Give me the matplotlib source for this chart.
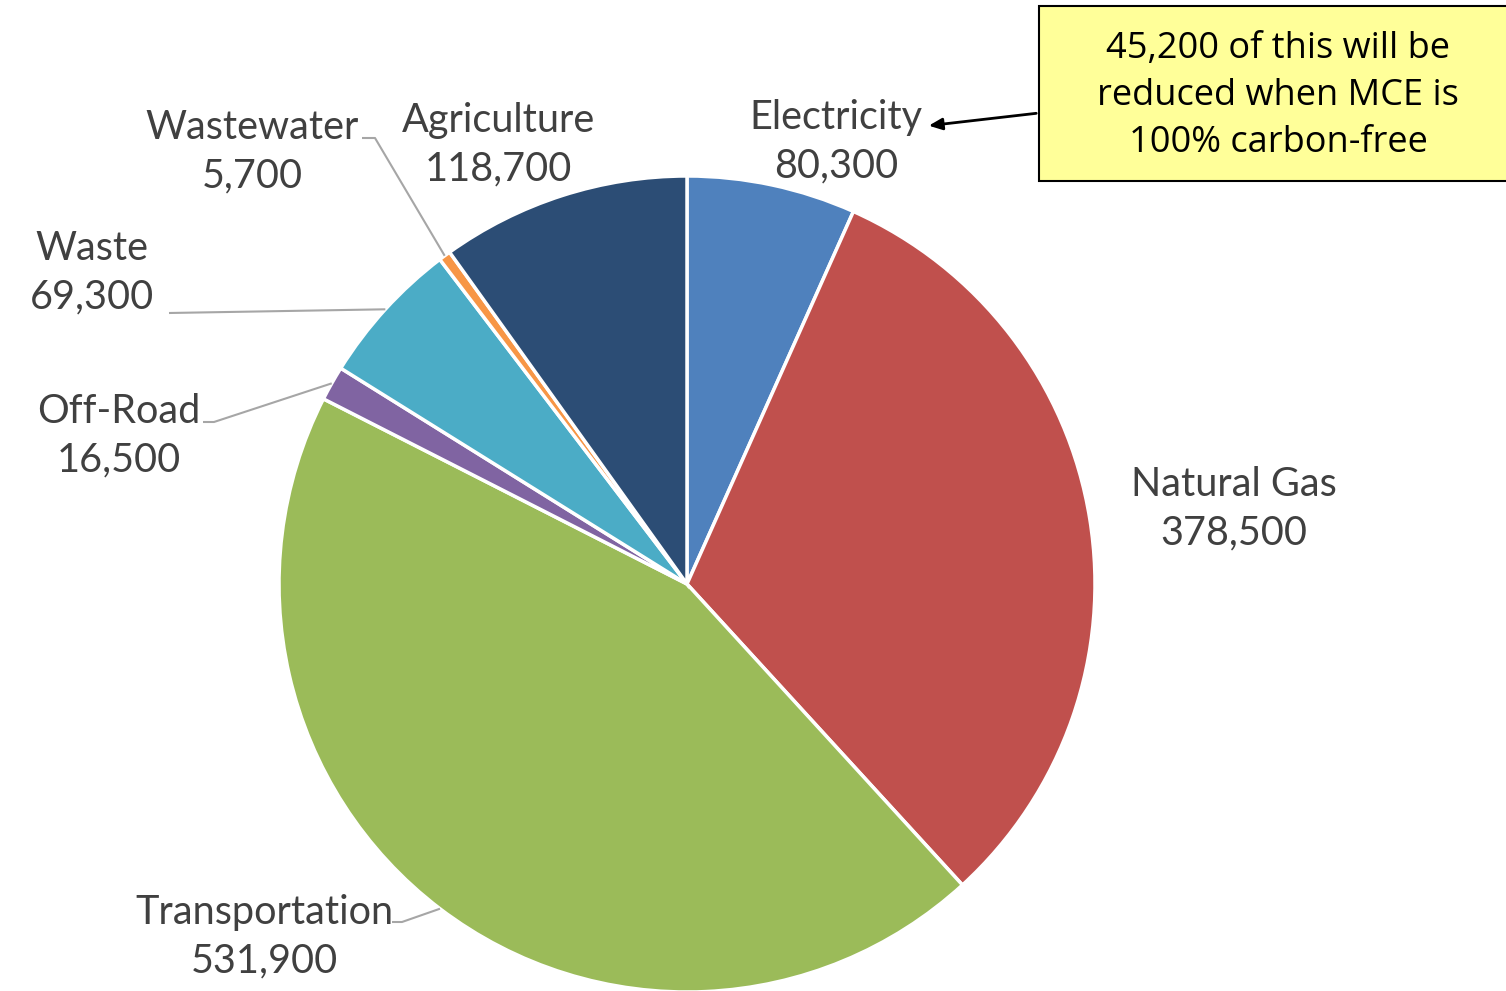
import matplotlib.pyplot as plt
import matplotlib.patches as mpatches
import numpy as np

# emissions by sector (MTCO2e), clockwise from 12 o'clock
sectors = ["Electricity", "Natural Gas", "Transportation", "Off-Road",
           "Waste", "Wastewater", "Agriculture"]
values = [80300, 378500, 531900, 16500, 69300, 5700, 118700]
colors = ["#4F81BD", "#C0504D", "#9BBB59", "#8064A2",
          "#4BACC6", "#F79646", "#2C4D75"]
note = "45,200 of this will be\nreduced when MCE is\n100% carbon-free"

W, H = 1506, 991
CX, CY, R = 687, 584, 408   # pie centre / radius in pixels


def px(x, y):
    # pixel position (from top-left) -> data coords of the pie axes
    return (x - CX) / R, (CY - y) / R


fig = plt.figure(figsize=(W / 100, H / 100), dpi=100)
ax = fig.add_axes([0, 0, 1, 1])

wedges, _ = ax.pie(values, colors=colors, startangle=90, counterclock=False,
                   radius=1, center=(0, 0), frame=True,
                   wedgeprops=dict(edgecolor="white", linewidth=2.5))
ax.set_xlim(-CX / R, (W - CX) / R)
ax.set_ylim((CY - H) / R, CY / R)
ax.set_aspect("equal")
ax.axis("off")

# label centres (pixels) and optional leader line start / elbow
label_pos = {
    "Electricity": (836, 142),
    "Natural Gas": (1234, 509),
    "Transportation": (264, 937),
    "Off-Road": (119, 436),
    "Waste": (92, 273),
    "Wastewater": (252, 152),
    "Agriculture": (498, 145),
}
leaders = {
    "Wastewater": [(362, 138), (375, 138)],
    "Waste": [(169, 313)],
    "Off-Road": [(203, 422), (214, 422)],
    "Transportation": [(392, 922), (402, 922)],
}

for w, name, val in zip(wedges, sectors, values):
    lx, ly = px(*label_pos[name])
    ax.text(lx, ly, f"{name}\n{val:,}", ha="center", va="center",
            fontsize=28.5, color="#404040", family="Lato", linespacing=1.38)
    if name in leaders:
        mid = np.deg2rad((w.theta1 + w.theta2) / 2)
        pts = [px(*p) for p in leaders[name]] + [(np.cos(mid), np.sin(mid))]
        xs, ys = zip(*pts)
        ax.plot(xs, ys, color="#A6A6A6", lw=1.5, solid_capstyle="butt")

# callout box
x0, y0 = px(1039, 181)
x1, y1 = px(1520, 6)
ax.add_patch(mpatches.Rectangle((x0, y0), x1 - x0, y1 - y0, facecolor="#FFFF99",
                                edgecolor="black", lw=1.5, zorder=3))
ax.text(*px(1278, 96), note, ha="center", va="center", fontsize=26,
        family="Open Sans", color="black", linespacing=1.42, zorder=4)
ax.annotate("", xy=px(926, 126), xytext=px(1039, 113),
            arrowprops=dict(arrowstyle="-|>,head_length=0.8,head_width=0.35",
                            color="black", lw=2), zorder=4)

plt.savefig("out.png", dpi=100)
plt.close()
